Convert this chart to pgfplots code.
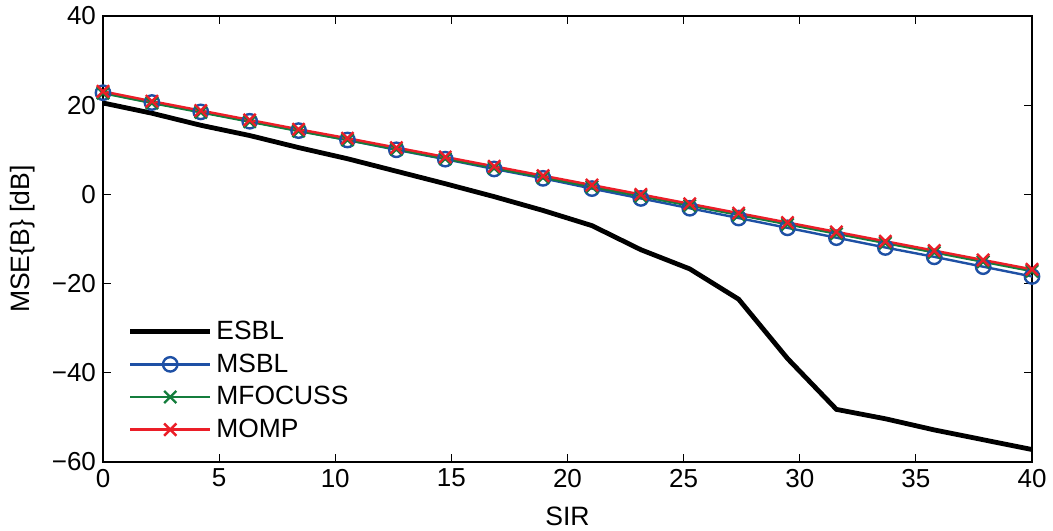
\documentclass[border=0pt]{standalone}
\usepackage{pgfplots}
\pgfplotsset{compat=1.18}
\usepackage{fontspec}
\setmainfont{Liberation Sans}
\definecolor{cblue}{RGB}{30,80,165}
\definecolor{cgreen}{RGB}{20,125,60}
\definecolor{cred}{RGB}{235,30,40}
\begin{document}
\begin{tikzpicture}
\begin{axis}[name=ax,
  scale only axis, width=464.5pt, height=223pt,
  xmin=0, xmax=40, ymin=-60, ymax=40,
  xtick={0,5,...,40}, ytick={-60,-40,-20,0,20,40},
  yticklabels={−60,−40,−20,0,20,40},
  /pgf/number format/assume math mode=true,
  tick align=inside, major tick length=4pt,
  tick style={black, line width=0.6pt},
  axis line style={line width=0.8pt},
  ticklabel style={font=\fontsize{13}{15}\selectfont},
  label style={font=\fontsize{13.3}{15}\selectfont},
  xlabel={SIR}, ylabel={MSE\{B\} [dB]},
  xlabel style={at={(axis description cs:0.5,-0.121)}, anchor=center},
  ylabel style={at={(axis description cs:-0.087,0.5)}, anchor=center, rotate=0},
  clip=false,
  legend cell align=left,
  legend style={at={(axis description cs:0.02,0.335)}, anchor=north west, draw=none, fill=none,
    font=\fontsize{13.2}{15}\selectfont, row sep=1.6pt},
  legend image code/.code={\draw[mark repeat=2,mark phase=2,#1] plot coordinates {(0cm,0cm) (0.7cm,0cm) (1.4cm,0cm)};},
]
\addplot[black, line width=2.4pt, no markers] coordinates {
(0,20.5) (2.1053,18.2) (4.2105,15.5) (6.3158,13.2) (8.4211,10.5) (10.5263,8.0) (12.6316,5.2) (14.7368,2.4) (16.8421,-0.5) (18.9474,-3.6) (21.0526,-7.0) (23.1579,-12.4) (25.2632,-16.7) (27.3684,-23.5) (29.4737,-36.8) (31.5789,-48.2) (33.6842,-50.3) (35.7895,-52.8) (37.8947,-55.0) (40,-57.2)};
\addlegendentry{ESBL}
\addplot[cblue, line width=1.2pt, mark=o, mark size=3.6pt, mark options={line width=1.2pt}] coordinates {
(0,22.8) (2.1053,20.6) (4.2105,18.5) (6.3158,16.4) (8.4211,14.3) (10.5263,12.2) (12.6316,10.0) (14.7368,7.9) (16.8421,5.7) (18.9474,3.6) (21.0526,1.3) (23.1579,-0.9) (25.2632,-3.1) (27.3684,-5.3) (29.4737,-7.5) (31.5789,-9.7) (33.6842,-11.9) (35.7895,-14.0) (37.8947,-16.2) (40,-18.4)};
\addlegendentry{MSBL}
\addplot[cgreen, line width=1.2pt, mark=x, mark size=4.3pt, mark options={line width=1.2pt}] coordinates {
(0,22.7) (2.1053,20.5) (4.2105,18.4) (6.3158,16.3) (8.4211,14.2) (10.5263,12.2) (12.6316,10.1) (14.7368,8.0) (16.8421,5.9) (18.9474,3.8) (21.0526,1.7) (23.1579,-0.4) (25.2632,-2.5) (27.3684,-4.6) (29.4737,-6.7) (31.5789,-8.8) (33.6842,-10.9) (35.7895,-13.0) (37.8947,-15.1) (40,-17.2)};
\addlegendentry{MFOCUSS}
\addplot[cred, line width=1.2pt, mark=x, mark size=4.3pt, mark options={line width=1.2pt}] coordinates {
(0,23.1) (2.1053,20.9) (4.2105,18.8) (6.3158,16.7) (8.4211,14.6) (10.5263,12.6) (12.6316,10.5) (14.7368,8.4) (16.8421,6.3) (18.9474,4.2) (21.0526,2.1) (23.1579,0.0) (25.2632,-2.1) (27.3684,-4.2) (29.4737,-6.3) (31.5789,-8.4) (33.6842,-10.5) (35.7895,-12.6) (37.8947,-14.7) (40,-16.8)};
\addlegendentry{MOMP}
\end{axis}
\pgfresetboundingbox
\path[use as bounding box] ([xshift=-51.5pt,yshift=-34pt]ax.south west) rectangle ([xshift=10.5pt,yshift=8pt]ax.north east);
\end{tikzpicture}
\end{document}
